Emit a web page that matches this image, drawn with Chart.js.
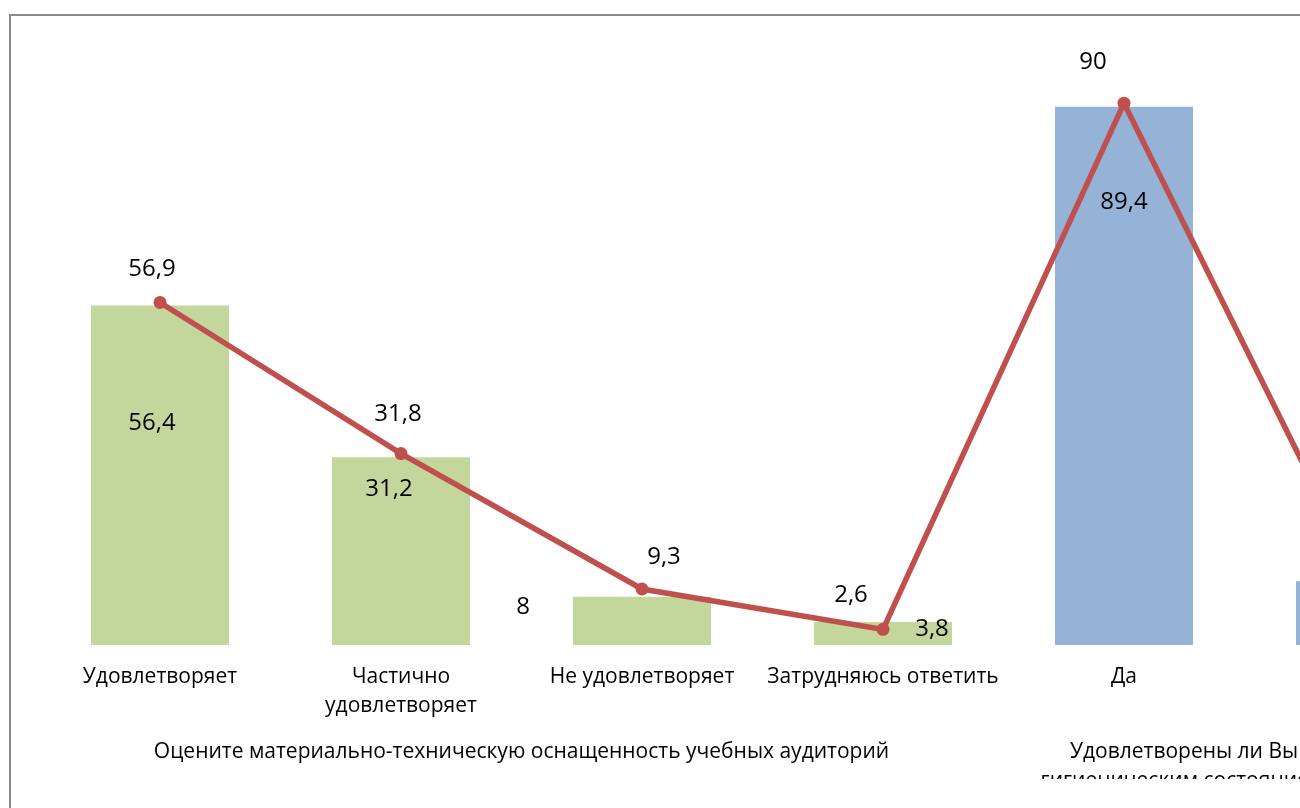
<!DOCTYPE html>
<html>
<head>
<meta charset="utf-8">
<script src="https://cdn.jsdelivr.net/npm/chart.js@4/dist/chart.umd.min.js"></script>
<style>
  html, body { margin: 0; padding: 0; background: #fff; overflow: hidden; }
  #box { position: absolute; left: 9px; top: 14px; border: 2px solid #8a8a8a; width: 1700px; height: 820px; background: #fff; }
  canvas { display: block; }
</style>
</head>
<body>
<div id="box"><canvas id="chart" width="1700" height="800"></canvas></div>
<script>
// --- data ---
const categories = [
    ['Удовлетворяет'],
    ['Частично', 'удовлетворяет'],
    ['Не удовлетворяет'],
    ['Затрудняюсь ответить'],
    ['Да'],
    ['Нет']
];
const barValues = [56.4, 31.2, 8, 3.8, 89.4, 10.6];
const lineValues = [56.9, 31.8, 9.3, 2.6, 90, 9.4];
const groupNames = [
    ['Оцените материально-техническую оснащенность учебных аудиторий'],
    ['Удовлетворены ли Вы санитарно-', 'гигиеническим состоянием аудиторий?']
];
const groupOfCategory = [0, 0, 0, 0, 1, 1];

const FONT = "'Open Sans', sans-serif";
const groupColors = ['#C3D69B', '#95B3D7'];
const fmt = v => String(v).replace('.', ',');

// ручные сдвиги подписей (как в исходной диаграмме)
const barNudge = [[-8, 118], [-12, 32], [-119, 10], [49, 7], [0, 95], [0, 30]];
const lineNudge = [[-8, -33], [-3, -39], [22, -32], [-32, -34], [-31, -41], [0, -34]];

const labelPlugin = {
    id: 'labelPlugin',
    afterDatasetsDraw(chart) {
        const ctx = chart.ctx;
        ctx.save();
        ctx.font = '24px ' + FONT;
        ctx.fillStyle = '#000';
        ctx.textAlign = 'center';
        ctx.textBaseline = 'middle';
        chart.getDatasetMeta(1).data.forEach((bar, i) => {
            ctx.fillText(fmt(barValues[i]), bar.x + barNudge[i][0], bar.y + barNudge[i][1]);
        });
        chart.getDatasetMeta(0).data.forEach((pt, i) => {
            ctx.fillText(fmt(lineValues[i]), pt.x + lineNudge[i][0], pt.y + lineNudge[i][1]);
        });
        ctx.restore();
    },
    afterDraw(chart) {
        // второй уровень подписей оси X (группы)
        const ctx = chart.ctx;
        const xs = chart.scales.x;
        ctx.save();
        ctx.beginPath();
        ctx.rect(0, 0, chart.width, 763);
        ctx.clip();
        ctx.font = '21px ' + FONT;
        ctx.fillStyle = '#000';
        ctx.textAlign = 'center';
        ctx.textBaseline = 'middle';
        groupNames.forEach((lines, g) => {
            const idx = groupOfCategory.map((v, i) => v === g ? i : -1).filter(i => i >= 0);
            const cx = (xs.getPixelForValue(idx[0]) + xs.getPixelForValue(idx[idx.length - 1])) / 2;
            lines.forEach((t, k) => ctx.fillText(t, cx, 736 + k * 29));
        });
        ctx.restore();
    }
};

new Chart(document.getElementById('chart'), {
    data: {
        labels: categories,
        datasets: [
            {
                type: 'line',
                data: lineValues,
                borderColor: '#C0504D',
                backgroundColor: '#C0504D',
                borderWidth: 5.5,
                pointRadius: 6.5,
                pointBackgroundColor: '#C0504D',
                pointBorderWidth: 0,
                tension: 0,
                order: 0
            },
            {
                type: 'bar',
                data: barValues,
                backgroundColor: groupOfCategory.map(g => groupColors[g]),
                categoryPercentage: 1,
                barPercentage: 0.573,
                order: 1
            }
        ]
    },
    options: {
        responsive: false,
        animation: false,
        devicePixelRatio: 1,
        layout: { padding: { left: 28.5, right: 225.5, top: 27, bottom: 41 } },
        plugins: { legend: { display: false }, tooltip: { enabled: false } },
        scales: {
            x: {
                grid: { display: false, drawTicks: false },
                border: { display: false },
                ticks: {
                    color: '#000',
                    font: { family: FONT, size: 21, lineHeight: 29 / 21 },
                    padding: 17.5,
                    maxRotation: 0,
                    autoSkip: false
                },
                afterFit: s => { s.height = 130; }
            },
            y: {
                display: false,
                min: 0,
                max: 100
            }
        }
    },
    plugins: [labelPlugin]
});
</script>
</body>
</html>
